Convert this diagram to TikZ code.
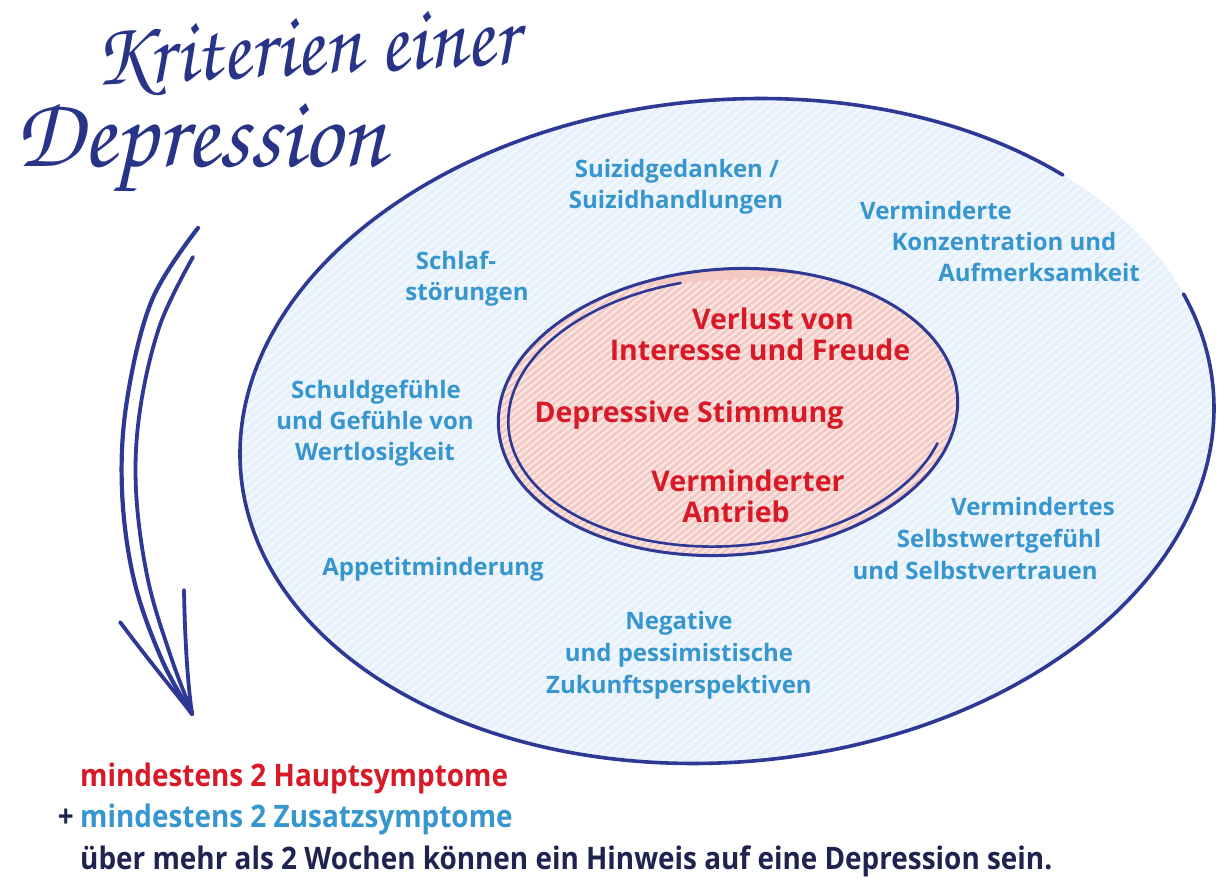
\documentclass[tikz,border=0pt]{standalone}
\usepackage{graphicx}
\usepackage{fontspec}
\setmainfont{Open Sans}
\newfontfamily\hand{TeX Gyre Chorus}
\newfontfamily\cond[FakeStretch=0.9]{Open Sans}
\usetikzlibrary{calc}
\definecolor{navy}{RGB}{45,57,148}
\definecolor{titlec}{RGB}{40,52,135}
\definecolor{lblue}{RGB}{55,150,205}
\definecolor{redA}{RGB}{215,25,40}
\definecolor{dtext}{RGB}{30,35,80}
\definecolor{bluefill}{RGB}{230,241,251}
\definecolor{pinkfill}{RGB}{244,200,195}
\begin{document}
\begin{tikzpicture}[x=1pt,y=1pt,
  bl/.style={text=lblue, font=\fontsize{24}{28}\selectfont\bfseries, anchor=base, inner sep=0},
  rd/.style={text=redA, font=\fontsize{28.5}{32}\selectfont\bfseries, anchor=base, inner sep=0},
  bt/.style={font=\cond\fontsize{31}{36}\selectfont\bfseries, anchor=base west, inner sep=0},
  ttl/.style={text=titlec, font=\hand\fontsize{60}{60}\selectfont, anchor=base west, inner sep=0},
  outline/.style={draw=navy, line width=3.6pt, line cap=round, line join=round},
  hatch/.style={white, line width=2pt, opacity=0.6}]
\useasboundingbox (0,-882) rectangle (1230,0);
\fill[white] (0,-882) rectangle (1230,0);

% outer ellipse
\coordinate (oc) at (727,-431);
\begin{scope}[rotate around={5:(oc)}]
  \begin{scope}
    \clip (oc) ellipse[x radius=488, y radius=331];
    \fill[bluefill] (oc) ellipse[x radius=488, y radius=331];
    \foreach \i in {-1000,-989,...,1100} \draw[hatch] (\i,-950) -- ++(1400,980);
  \end{scope}
  \draw[outline] ($(oc)+(43:488 and 331)$) arc[start angle=43, end angle=377, x radius=488, y radius=331];
\end{scope}

% inner ellipse
\coordinate (ic) at (728,-412);
\begin{scope}[rotate around={4:(ic)}]
  \begin{scope}
    \clip (ic) ellipse[x radius=230, y radius=143];
    \fill[pinkfill] (ic) ellipse[x radius=230, y radius=143];
    \foreach \i in {-160,-151,...,820} \draw[white, line width=2.2pt, opacity=0.55] (\i,-700) -- ++(600,420);
  \end{scope}
  \draw[outline, line width=3pt] (ic) ellipse[x radius=230, y radius=143];
  \draw[outline, line width=2.6pt] ($(ic)+(100:220 and 134)$) arc[start angle=100, end angle=340, x radius=220, y radius=134];
\end{scope}

% arrow
\coordinate (a1) at (198,-228);
\coordinate (a2) at (193,-257);
\coordinate (tip) at (192,-714);
\coordinate (b1) at (120,-622);
\coordinate (b2) at (184,-590);
\draw[outline, line width=4.2pt] plot[smooth, tension=0.6] coordinates {(198,-228) (152,-300) (127,-400) (122,-490) (134,-580) (162,-660) (192,-714)};
\draw[outline, line width=3.8pt] plot[smooth, tension=0.6] coordinates {(193,-257) (160,-325) (140,-410) (136,-490) (148,-580) (172,-660) (192,-712)};
\draw[outline, line width=3.8pt] (b1) .. controls (150,-662) and (175,-692) .. (tip);
\draw[outline, line width=3.8pt] (b2) .. controls (185,-645) and (188,-685) .. (tip);

% title
\node[ttl, rotate=3] (t1) at (95,-86) {\resizebox{425pt}{57pt}{Kriterien einer}};
\node[ttl] (t2) at (15,-167) {\resizebox{370pt}{63pt}{Depression}};

% blue labels
\node[bl] (s1) at (677,-178) {Suizidgedanken /};
\node[bl] (s2) at (676,-209) {Suizidhandlungen};
\node[bl] (k1) at (936,-220) {Verminderte};
\node[bl] (k2) at (1004,-251) {Konzentration und};
\node[bl] (k3) at (1039,-282) {Aufmerksamkeit};
\node[bl] (sl1) at (456,-270) {Schlaf-};
\node[bl] (sl2) at (467,-301) {störungen};
\node[bl] (g1) at (376,-398) {Schuldgefühle};
\node[bl] (g2) at (375,-429) {und Gefühle von};
\node[bl] (g3) at (375,-460) {Wertlosigkeit};
\node[bl] (ap) at (433,-575) {Appetitminderung};
\node[bl] (n1) at (679,-629) {Negative};
\node[bl] (n2) at (679,-661) {und pessimistische};
\node[bl] (n3) at (679,-693) {Zukunftsperspektiven};
\node[bl] (v1) at (1033,-515) {Vermindertes};
\node[bl] (v2) at (999,-547) {Selbstwertgefühl};
\node[bl] (v3) at (975,-579) {und Selbstvertrauen};

% red labels
\node[rd] (r1) at (773,-329) {Verlust von};
\node[rd] (r2) at (760,-360) {Interesse und Freude};
\node[rd] (r3) at (689,-422) {Depressive Stimmung};
\node[rd] (r4) at (748,-491) {Verminderter};
\node[rd] (r5) at (736,-522) {Antrieb};

% bottom text
\node[bt, text=redA] (h1) at (80,-786) {mindestens 2 Hauptsymptome};
\node[bt, text=dtext, anchor=base east] (plus) at (74,-827) {+};
\node[bt, text=lblue] (h2) at (80,-827) {mindestens 2 Zusatzsymptome};
\node[bt, text=dtext] (h3) at (80,-869) {über mehr als 2 Wochen können ein Hinweis auf eine Depression sein.};
\end{tikzpicture}
\end{document}
